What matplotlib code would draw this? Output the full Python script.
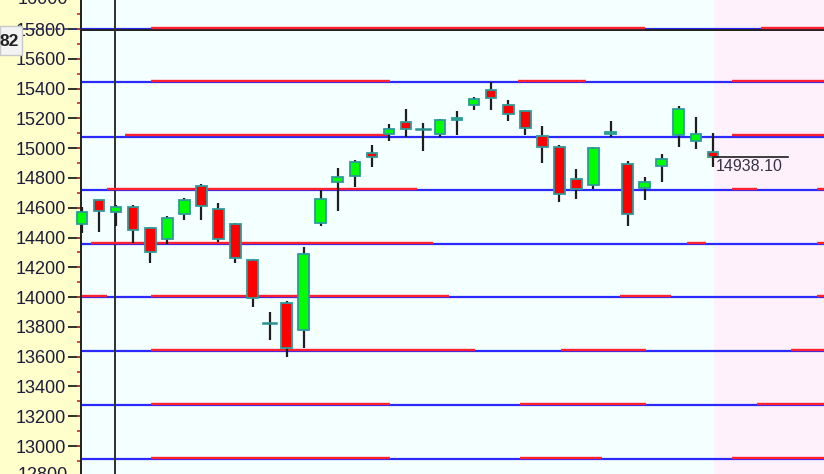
import numpy as np
import matplotlib
matplotlib.use("Agg")
import matplotlib.pyplot as plt
from matplotlib.patches import Rectangle
from matplotlib.lines import Line2D
import matplotlib.transforms as mtransforms

plt.rcParams['font.family'] = ['Liberation Sans', 'DejaVu Sans']

# ---- data ----
opens  = [14490, 14652, 14571, 14605, 14464, 14390, 14558, 14746, 14591, 14490,
          14249, 13828, 13960, 13778, 14500, 14772, 14813, 14967, 15095, 15176,
          15128, 15095, 15192, 15290, 15390, 15290, 15249, 15081, 15007, 14793,
          14752, 15094, 14893, 14732, 14880, 15088, 15048, 14975]
highs  = [14605, 14655, 14618, 14618, 14470, 14545, 14667, 14759, 14631, 14495,
          14255, 13899, 13973, 14336, 14719, 14867, 14920, 15021, 15162, 15263,
          15169, 15195, 15249, 15345, 15444, 15323, 15252, 15151, 15021, 14860,
          15010, 15182, 14916, 14809, 14960, 15283, 15209, 15104]
lows   = [14430, 14437, 14477, 14363, 14228, 14354, 14517, 14517, 14370, 14228,
          13933, 13711, 13600, 13658, 14477, 14578, 14739, 14873, 15048, 15075,
          14981, 15075, 15088, 15256, 15256, 15182, 15088, 14900, 14638, 14658,
          14725, 15075, 14477, 14651, 14772, 15007, 14994, 14875]
closes = [14571, 14578, 14605, 14450, 14302, 14531, 14652, 14611, 14390, 14262,
          13993, 13828, 13658, 14289, 14658, 14806, 14909, 14940, 15128, 15128,
          15128, 15189, 15204, 15330, 15337, 15229, 15135, 15007, 14692, 14725,
          15001, 15106, 14557, 14772, 14927, 15263, 15095, 14938.10]

# horizontal levels (blue) and red segments on them (start, end in bar index units)
levels = [15798, 15442, 15078, 14716, 14354, 13998, 13635, 13273, 12910]
red_segments = [
    [(4.05, 33.0), (39.8, 43.6)],
    [(4.05, 18.06), (25.6, 29.56), (38.1, 43.6)],
    [(2.52, 18.06), (38.1, 43.6)],
    [(1.47, 19.65), (38.1, 39.6), (43.1, 43.6)],
    [(0.53, 20.6), (35.5, 36.6), (43.1, 43.6)],
    [(-0.1, 1.47), (4.05, 21.5), (31.55, 34.55), (43.1, 43.6)],
    [(4.05, 23.05), (28.1, 33.08), (41.6, 43.6)],
    [(4.05, 18.06), (25.7, 33.08), (39.6, 43.6)],
    [(4.05, 18.06), (25.7, 30.5), (38.1, 43.6)],
]
ytick_values = list(range(13000, 15801, 200))
partial_ticks = [16000, 12800]
crosshair_price = 15797.82
crosshair_label = "82"
cursor_bar = 1.906
last_label = "14938.10"

# ---- figure ----
W, H = 824, 474
fig = plt.figure(figsize=(W / 100, H / 100), dpi=100, facecolor='#ffffcc')
ax = fig.add_axes([81 / W, 0, (W - 81) / W, 1])
ax.set_facecolor('#f4ffff')
ax.set_xlim(-0.06, 43.52)
ax.set_ylim(12812, 15995)

n = len(opens)
ax.axvspan(n - 0.94, 50, color='#fff1fc', zorder=0, lw=0)

# levels
for lv, segs in zip(levels, red_segments):
    ax.axhline(lv, color='#2a2aff', lw=1.6, zorder=2)
    for s, e in segs:
        ax.plot([s, e], [lv + 12, lv + 12], color='#ff2030', lw=1.7, zorder=2.5,
                solid_capstyle='butt')

# crosshair
ax.axhline(crosshair_price - 6, color='#202020', lw=1.4, zorder=2.2)
ax.axvline(cursor_bar, color='#303030', lw=1.4, zorder=2.2)

# candles
bw = 0.62
for i in range(n):
    o, h, l, c = opens[i], highs[i], lows[i], closes[i]
    ax.plot([i, i], [l, h], color='#1e1e1e', lw=1.6, zorder=3, clip_on=False,
            solid_capstyle='butt')
    if abs(c - o) < 1:
        ax.plot([i - bw / 2 - 0.08, i + bw / 2 + 0.08], [o, o], color='#2a9090',
                lw=1.8, zorder=4, clip_on=False)
        continue
    col = '#00ff00' if c > o else '#ff0000'
    lo, hi = min(o, c), max(o, c)
    ax.add_patch(Rectangle((i - bw / 2, lo), bw, hi - lo, facecolor=col,
                           edgecolor='#2e9a9a', lw=1.3, zorder=4, clip_on=False))

# last price label
ax.plot([n - 1, 41.4], [closes[-1], closes[-1]], color='#1e1e1e', lw=1.2, zorder=5)
ax.text(n - 1 + 0.2, closes[-1] - 8, last_label, ha='left', va='top',
        fontsize=11.5, color='#333344', zorder=6)

# axis styling
for sp in ['top', 'right', 'bottom']:
    ax.spines[sp].set_visible(False)
ax.spines['left'].set_color('#202020')
ax.spines['left'].set_linewidth(1.4)
ax.set_xticks([])
ax.set_yticks(ytick_values)
ax.set_yticklabels([str(v) for v in ytick_values])
ax.set_yticks(list(range(12900, 16000, 100)), minor=True)
ax.yaxis.remove_overlapping_locs = False
ax.tick_params(axis='y', which='major', length=9.5, width=1.3, color='#202020',
               labelsize=13, labelcolor='#1c1c3c', pad=1.5)
ax.tick_params(axis='y', which='minor', length=3, width=1.3, color='#d03a2a')

trans = mtransforms.blended_transform_factory(ax.transAxes, ax.transData)
for v in partial_ticks:
    ax.text(-0.0175, v, str(v), transform=trans, ha='right', va='center',
            fontsize=13, color='#1c1c3c', clip_on=False)

# crosshair dashed line in margin and price box
ycp = ax.transData.transform((0, crosshair_price))[1] / H
fig.add_artist(Line2D([22 / W, 81 / W], [ycp, ycp], color='#303070', lw=1.2,
                      ls=(0, (3, 2)), transform=fig.transFigure, zorder=1))
fig.add_artist(Rectangle((0, 1 - 55 / H), 22 / W, 29 / H, transform=fig.transFigure,
                         facecolor='#f3f3f3', edgecolor='#c8c8c8', lw=1, zorder=10))
fig.text(-1 / W, 1 - 42 / H, crosshair_label, ha='left', va='center', fontsize=12.5,
         fontweight='bold', color='#202020', zorder=11)

fig.savefig('out.png', dpi=100, facecolor=fig.get_facecolor())
